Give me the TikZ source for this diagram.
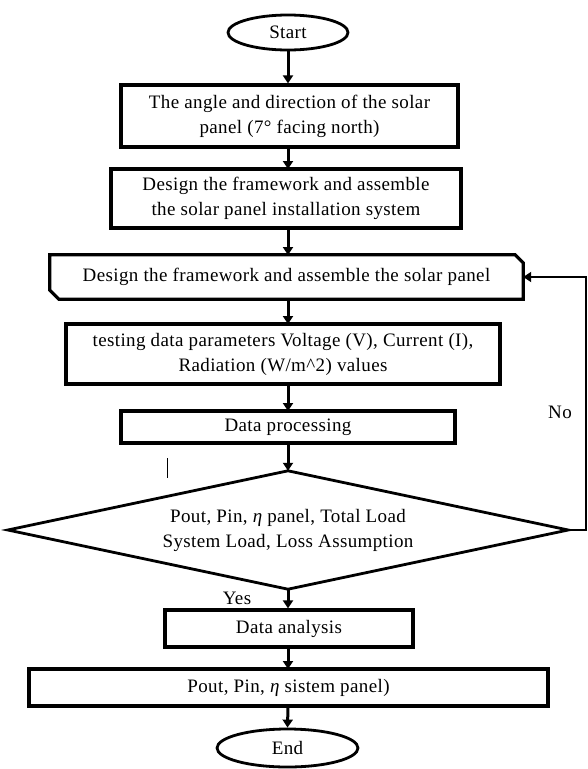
\documentclass[tikz,border=0pt]{standalone}
\usepackage{fontspec}
\setmainfont{Liberation Serif}[LetterSpace=2]
\usetikzlibrary{arrows.meta,shapes.geometric}
\begin{document}
\begin{tikzpicture}[x=1pt,y=-1pt,
  every node/.style={font=\fontsize{19}{25}\selectfont, align=center, inner sep=0pt},
  pbox/.style={draw, line width=3.2pt},
  term/.style={draw, ellipse, line width=2.8pt},
  arr/.style={line width=3pt, -{Triangle[length=8pt,width=10pt]}},
  fb/.style={line width=2.2pt, -{Triangle[length=8pt,width=10pt]}},
  dline/.style={line width=2.8pt, line join=miter}
]
\useasboundingbox (0,0) rectangle (587,769);

\node[term, minimum width=120, minimum height=35] (start) at (288,32.5) {Start};
\node[pbox, minimum width=337, minimum height=62] (b1) at (289.5,116) {The angle and direction of the solar\\panel (7° facing north)};
\node[pbox, minimum width=350, minimum height=59] (b2) at (286,198.5) {Design the framework and assemble\\the solar panel installation system};
\node[minimum width=473, minimum height=44] (b3) at (286.5,277) {Design the framework and assemble the solar panel};
\draw[pbox] (b3.north west) -- ([xshift=-8pt]b3.north east) -- ([yshift=-8pt]b3.north east)
  -- (b3.south east) -- ([xshift=9pt]b3.south west) -- ([yshift=9pt]b3.south west) -- cycle;
\node[pbox, minimum width=434, minimum height=60] (b4) at (283,354) {testing data parameters Voltage (V), Current (I),\\Radiation (W/m\^{}2) values};
\node[pbox, minimum width=334, minimum height=32] (b5) at (288,427) {Data processing};
\node[minimum width=560, minimum height=118] (d) at (288,530) {Pout, Pin, {\itshape η} panel, Total Load\\System Load, Loss Assumption};
\draw[dline] (d.north) -- (d.east) -- (d.south) -- (d.west) -- cycle;
\node[pbox, minimum width=248, minimum height=37] (b6) at (289,628.5) {Data analysis};
\node[pbox, minimum width=519, minimum height=37] (b7) at (288.5,687.5) {Pout, Pin, {\itshape η} sistem panel)};
\node[term, minimum width=141, minimum height=38] (end) at (287.5,748) {End};

\draw[arr] (start.south) -- (start.south |- b1.north);
\draw[arr] (288,147) -- (288,169);
\draw[arr] (288,228) -- (288,255);
\draw[arr] (288,299) -- (288,324);
\draw[arr] (288,384) -- (288,411);
\draw[arr] (288,443) -- (d.north);
\draw[arr] (d.south) -- (d.south |- b6.north);
\draw[arr] (288,647) -- (288,669);
\draw[arr] (288,706) -- (end.north);
\draw[fb] (d.east) -- ++(18,0) |- (b3.east);

\node (no) at (560,412) {No};
\node (yes) at (237,598) {Yes};
\draw[line width=0.9pt] (167,458) -- (167,478);
\end{tikzpicture}
\end{document}
